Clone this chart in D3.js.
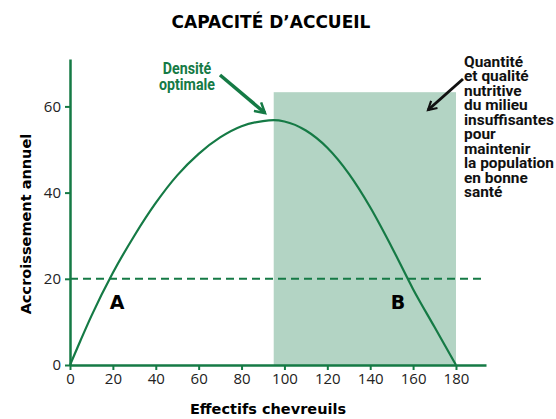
<!DOCTYPE html>
<html>
<head>
<meta charset="utf-8">
<script src="https://cdn.jsdelivr.net/npm/d3@7"></script>
<style>
  body { margin: 0; background: #fff; }
  svg { display: block; }
  .tick text { font-family: "Open Sans", "DejaVu Sans", sans-serif; font-size: 15px; fill: #222; }
  .cond { font-family: Roboto, "DejaVu Sans", sans-serif; font-weight: bold; }
  .bold { font-family: "DejaVu Sans", sans-serif; font-weight: bold; }
</style>
</head>
<body>
<script>
// curve: effectifs -> accroissement
var effectifs = [0, 5, 10, 20, 30, 40, 50, 60, 70, 80, 90, 95, 100, 110, 120, 130, 140, 150, 160, 170, 180];
var accroissement = [0, 5.8, 11.4, 21.4, 30, 37.6, 44, 49, 52.8, 55.4, 56.6, 56.8, 56.5, 54.4, 50.4, 44.4, 36.6, 27.4, 17.6, 8.8, 0];
var xTicks = [0, 20, 40, 60, 80, 100, 120, 140, 160, 180];
var yTicks = [0, 20, 40, 60];
var zone = [95, 180];      // zone insuffisante (x)
var zoneTop = 63.3;
var seuil = 20;
var labelsAB = [{t: "A", x: 22, y: 13}, {t: "B", x: 153, y: 13}];
var densLines = ["Densité", "optimale"];
var noteLines = ["Quantité", "et qualité", "nutritive", "du milieu", "insuffisantes", "pour", "maintenir", "la population", "en bonne", "santé"];

var green = "#157a45", fill = "#b3d4c4";
var W = 556, H = 419;
var svg = d3.select("body").append("svg").attr("width", W).attr("height", H);

var x = d3.scaleLinear().domain([0, 194]).range([70, 486]);
var y = d3.scaleLinear().domain([0, 71]).range([365, 59]);

// shaded rect
svg.append("rect")
    .attr("x", x(zone[0])).attr("y", y(zoneTop))
    .attr("width", x(zone[1]) - x(zone[0]))
    .attr("height", y(0) - y(zoneTop))
    .attr("fill", fill);

// dashed threshold
svg.append("line")
    .attr("x1", x(0)).attr("x2", x(194))
    .attr("y1", y(seuil)).attr("y2", y(seuil))
    .attr("stroke", green).attr("stroke-width", 2)
    .attr("stroke-dasharray", "8,5");

// axes
var xAxis = svg.append("g").attr("transform", "translate(0," + y(0) + ")")
    .call(d3.axisBottom(x).tickValues(xTicks).tickSize(5).tickPadding(3).tickSizeOuter(0));
var yAxis = svg.append("g").attr("transform", "translate(" + x(0) + ",0)")
    .call(d3.axisLeft(y).tickValues(yTicks).tickSize(5).tickPadding(4).tickSizeOuter(0));
[xAxis, yAxis].forEach(function (g) {
    g.select(".domain").attr("stroke", green).attr("stroke-width", 2.5);
    g.selectAll(".tick line").attr("stroke", green).attr("stroke-width", 2);
});

// curve
var pts = effectifs.map(function (d, i) { return [d, accroissement[i]]; });
svg.append("path")
    .datum(pts)
    .attr("fill", "none")
    .attr("stroke", green).attr("stroke-width", 2.2)
    .attr("d", d3.line().x(function (d) { return x(d[0]); }).y(function (d) { return y(d[1]); }).curve(d3.curveMonotoneX));

// A / B
svg.selectAll(".ab").data(labelsAB).enter().append("text")
    .attr("class", "bold")
    .attr("x", function (d) { return x(d.x); })
    .attr("y", function (d) { return y(d.y); })
    .attr("text-anchor", "middle")
    .style("font-size", "19px")
    .text(function (d) { return d.t; });

// titles
svg.append("text").attr("class", "bold").attr("x", 271).attr("y", 28).attr("text-anchor", "middle")
    .style("font-size", "17px")
    .text("CAPACITÉ D’ACCUEIL");
svg.append("text").attr("class", "bold").attr("x", 268).attr("y", 414).attr("text-anchor", "middle")
    .style("font-size", "14.5px")
    .text("Effectifs chevreuils");
svg.append("text").attr("class", "bold").attr("transform", "translate(31,224) rotate(-90)").attr("text-anchor", "middle")
    .style("font-size", "14.5px")
    .text("Accroissement annuel");

// arrows
var defs = svg.append("defs");
function marker(id, col) {
    defs.append("marker").attr("id", id).attr("viewBox", "0 0 10 10")
        .attr("refX", 8).attr("refY", 5).attr("markerWidth", 4).attr("markerHeight", 4)
        .attr("orient", "auto")
        .append("path").attr("d", "M1,1 L8,5 L1,9").attr("fill", "none")
        .attr("stroke", col).attr("stroke-width", 1.8);
}
marker("ag", green);
marker("ak", "#111");
svg.append("line").attr("x1", 220).attr("y1", 75).attr("x2", 265).attr("y2", 113)
    .attr("stroke", green).attr("stroke-width", 3.5).attr("marker-end", "url(#ag)");
svg.append("line").attr("x1", 463).attr("y1", 79).attr("x2", 428).attr("y2", 110)
    .attr("stroke", "#111").attr("stroke-width", 3).attr("marker-end", "url(#ak)");

// condensed text block: squeeze horizontally so that the widest line fits
function condensed(gx, gy, lines, size, lead, col, anchor, widest) {
    var g = svg.append("g").attr("transform", "translate(" + gx + "," + gy + ")");
    var t = g.append("text").attr("class", "cond").style("font-size", size + "px")
        .attr("fill", col).attr("text-anchor", anchor);
    t.selectAll("tspan").data(lines).enter().append("tspan")
        .attr("x", 0).attr("y", function (d, i) { return i * lead; })
        .text(function (d) { return d; });
    var w = 0;
    t.selectAll("tspan").each(function () { w = Math.max(w, this.getComputedTextLength()); });
    t.attr("transform", "scale(" + (widest / w) + ",1)");
}
condensed(187, 74, densLines, 17, 16, green, "middle", 56);
condensed(464, 67, noteLines, 14.5, 14.5, "#111", "start", 90);
</script>
</body>
</html>
